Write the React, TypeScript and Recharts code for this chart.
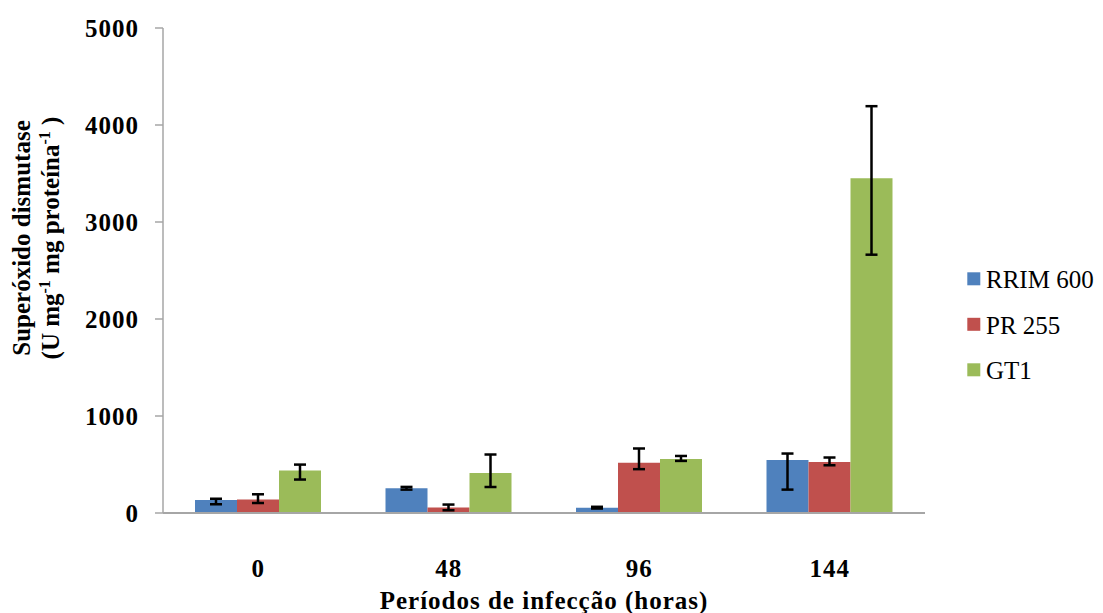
import React from 'react';
import { BarChart, Bar, XAxis, YAxis, ErrorBar, Label } from 'recharts';

// Infection periods (hours)
const periods = ['0', '48', '96', '144'];

// Superoxide dismutase activity per clone
const rrim600 = [135, 255, 55, 547];
const pr255 = [138, 56, 518, 526];
const gt1 = [437, 413, 557, 3452];

// Error bars as [minus, plus]
const rrim600Err = [[45, 12], [14, 14], [9, 9], [306, 66]];
const pr255Err = [[35, 55], [28, 31], [66, 147], [34, 46]];
const gt1Err = [[92, 62], [145, 190], [20, 31], [789, 742]];

const yTicks = [0, 1000, 2000, 3000, 4000, 5000];

const series = [
  { key: 'rrim', err: 'rrimErr', name: 'RRIM 600', color: '#4F81BD' },
  { key: 'pr', err: 'prErr', name: 'PR 255', color: '#C0504D' },
  { key: 'gt', err: 'gtErr', name: 'GT1', color: '#9BBB59' },
];

const data = periods.map((p, i) => ({
  period: p,
  rrim: rrim600[i],
  rrimErr: rrim600Err[i],
  pr: pr255[i],
  prErr: pr255Err[i],
  gt: gt1[i],
  gtErr: gt1Err[i],
}));

const FONT = "'Times New Roman', 'Liberation Serif', 'DejaVu Serif', serif";

const YTitle = () => {
  const cy = 238;
  return (
    <g style={{ fontFamily: FONT }} fontWeight="bold" fontSize={25} fill="#000">
      <text x={30} y={cy} textAnchor="middle" transform={`rotate(-90, 30, ${cy})`}>
        Superóxido dismutase
      </text>
      <text x={59} y={cy} textAnchor="middle" transform={`rotate(-90, 59, ${cy})`}>
        <tspan>(U mg</tspan>
        <tspan dy={-9} fontSize={16}>-1</tspan>
        <tspan dy={9}> mg proteína</tspan>
        <tspan dy={-9} fontSize={16}>-1</tspan>
        <tspan dy={9}> )</tspan>
      </text>
    </g>
  );
};

// Legend drawn as its own small svg to the right of the plot
const LegendBox = () => (
  <svg
    width={143}
    height={140}
    style={{ position: 'absolute', left: 960, top: 255, fontFamily: FONT }}
  >
    {series.map((s, i) => {
      const base = 33.3 + i * 45.5;
      return (
        <g key={s.key}>
          <rect x={7.3} y={base - 16} width={13} height={13} fill={s.color} />
          <text x={26} y={base} fontSize={25} fill="#000">
            {s.name}
          </text>
        </g>
      );
    })}
  </svg>
);

const tickStyle = { fontFamily: FONT, fontWeight: 'bold', fontSize: 25, fill: '#000', letterSpacing: 1 };

export default function App() {
  return (
    <div style={{ position: 'absolute', left: 0, top: 0, width: 1103, height: 613, background: '#fff' }}>
      <BarChart
        width={1103}
        height={613}
        data={data}
        margin={{ top: 28, right: 178, bottom: 70, left: 103 }}
        barCategoryGap={32}
        barGap={0}
      >
        <XAxis
          dataKey="period"
          axisLine={{ stroke: '#A6A6A6', strokeWidth: 2 }}
          tickLine={false}
          tickSize={0}
          tickMargin={46}
          height={30}
          tick={tickStyle}
        >
          <Label
            content={() => (
              <text
                x={544}
                y={608.5}
                textAnchor="middle"
                style={{ fontFamily: FONT, letterSpacing: 1 }}
                fontWeight="bold"
                fontSize={25}
                fill="#000"
              >
                Períodos de infecção (horas)
              </text>
            )}
          />
        </XAxis>
        <YAxis
          width={60}
          domain={[0, 5000]}
          ticks={yTicks}
          interval={0}
          axisLine={{ stroke: '#A6A6A6', strokeWidth: 1.5 }}
          tickLine={{ stroke: '#A6A6A6', strokeWidth: 1.5 }}
          tickSize={8}
          tickMargin={16}
          tick={tickStyle}
        >
          <Label content={() => <YTitle />} />
        </YAxis>
        {series.map((s) => (
          <Bar key={s.key} dataKey={s.key} name={s.name} fill={s.color} isAnimationActive={false}>
            <ErrorBar dataKey={s.err} width={6} stroke="#000" strokeWidth={2.5} direction="y" />
          </Bar>
        ))}
      </BarChart>
      <LegendBox />
    </div>
  );
}
